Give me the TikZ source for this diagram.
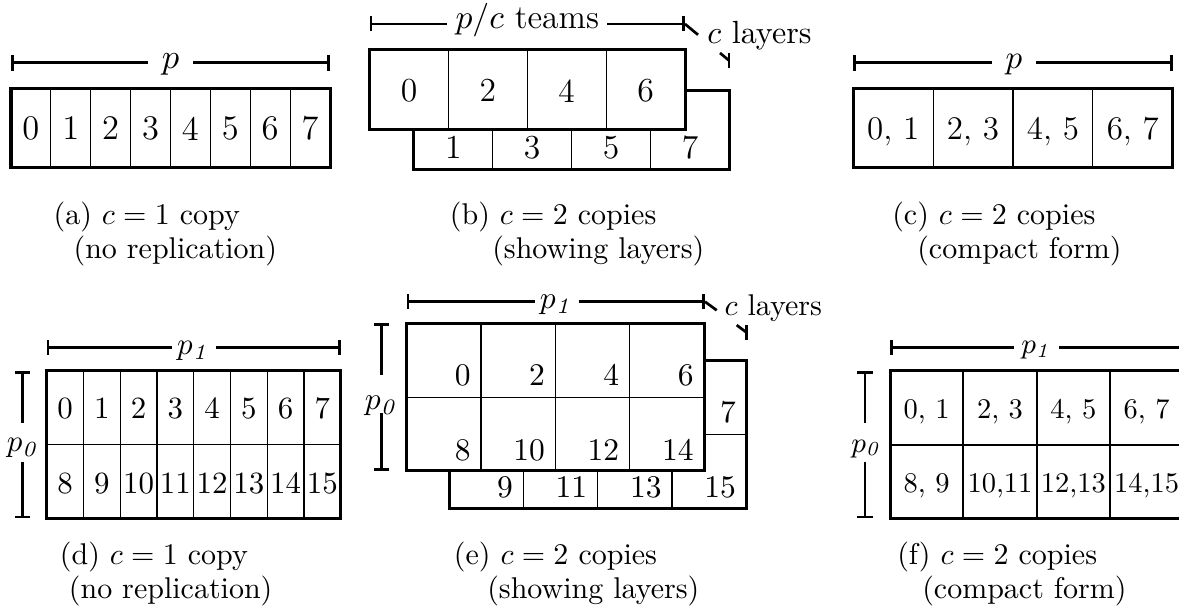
\RequirePackage{fix-cm}
\documentclass[tikz,border=0pt]{standalone}
\usetikzlibrary{arrows.meta}
\begin{document}
\begin{tikzpicture}[x=0.333333pt,y=-0.333333pt,
  frame/.style={line width=1pt},
  divider/.style={line width=0.4pt},
  dimline/.style={line width=0.9pt},
  lab/.style={inner sep=0pt, outer sep=0pt},
  dimlab/.style={inner ysep=0pt, outer sep=0pt, anchor=base},
  captxt/.style={anchor=base west, inner sep=0pt, font=\fontsize{10}{12}\selectfont},
  fa/.style={font=\fontsize{11.5}{13.8}\selectfont},
  fb/.style={font=\fontsize{11.2}{13.4}\selectfont},
  fc/.style={font=\fontsize{11}{13.2}\selectfont},
  fd/.style={font=\fontsize{10.3}{12.4}\selectfont},
  fe/.style={font=\fontsize{10.5}{12.6}\selectfont},
  ff/.style={font=\fontsize{9.5}{11.4}\selectfont},
]
\useasboundingbox (0,0) rectangle (1179,611);

% ---------------- (a) one copy, 1-D ----------------
\coordinate (aL) at (11,62.7);
\coordinate (aR) at (330,62.7);
\node[fa, dimlab, inner xsep=4.6pt] (aP) at (170.5,68.1) {$p$};
\draw[dimline,{Bar[width=5.3pt]}-] (aL) -- (aP.west |- aL);
\draw[dimline,-{Bar[width=5.3pt]}] (aP.east |- aR) -- (aR);
\draw[frame] (11,88.3) rectangle (330,167.3);
\foreach \i in {1,...,7}
  \draw[divider] ({11+\i*39.875},88.3) -- ({11+\i*39.875},167.3);
\foreach \i in {0,...,7}
  \node[fa, lab] (a\i) at ({11+(\i+0.5)*39.875},128.5) {\i};
\node[captxt] (capa1) at (53,225) {(a) $c=1$ copy};
\node[captxt] (capa2) at (73,259) {(no replication)};

% ---------------- (b) two copies, layers ----------------
\coordinate (bL) at (369.5,24);
\coordinate (bR) at (685,24);
\node[fb, dimlab, inner xsep=2.8pt] (bP) at (527.3,28.3) {$p/c$ teams};
\draw[dimline,{Bar[width=5pt]}-] (bL) -- (bP.west |- bL);
\draw[dimline,-{Bar[width=5pt]}] (bP.east |- bR) -- (bR);
% depth marker
\coordinate (bD1) at (698,34.8);
\coordinate (bD2) at (720,53);
\coordinate (bD3) at (729,60.5);
\draw[dimline] (bR) -- (bD1);
\draw[dimline] (bD2) -- (bD3);
\draw[dimline] (729,53) -- (729,68);
\node[anchor=base west, inner sep=0pt, font=\fontsize{10.7}{12.8}\selectfont] (bC) at (706.7,43.3) {$c$ layers};
% back layer
\draw[frame] (413.3,90.7) rectangle (729,170);
\foreach \x in {492.2,571.1,650.1}
  \draw[divider] (\x,90.7) -- (\x,170);
% front layer
\draw[frame, fill=white] (369.5,50) rectangle (685,129.3);
\foreach \x in {448.4,527.3,606.1}
  \draw[divider] (\x,50) -- (\x,129.3);
\foreach \i/\x in {0/409,2/487.9,4/566.7,6/645.6}
  \node[fb, lab] (b\i) at (\x,90.8) {\i};
\foreach \i/\x in {1/453.4,3/532.2,5/611.1,7/690}
  \node[fb, lab] (b\i) at (\x,147.5) {\i};
\node[captxt] (capb1) at (449.3,225) {(b) $c=2$ copies};
\node[captxt] (capb2) at (491.7,259) {(showing layers)};

% ---------------- (c) two copies, compact ----------------
\coordinate (cL) at (853.3,62.7);
\coordinate (cR) at (1172.7,62.7);
\node[fc, dimlab, inner xsep=4.6pt] (cP) at (1013.8,68.1) {$p$};
\draw[dimline,{Bar[width=5.3pt]}-] (cL) -- (cP.west |- cL);
\draw[dimline,-{Bar[width=5.3pt]}] (cP.east |- cR) -- (cR);
\draw[frame] (853.3,88.3) rectangle (1172.7,167.3);
\foreach \x in {933.1,1013,1092.8}
  \draw[divider] (\x,88.3) -- (\x,167.3);
\foreach \t/\x [count=\k] in {{0, 1}/893.2,{2, 3}/973,{4, 5}/1052.9,{6, 7}/1132.8}
  \node[fc, lab, anchor=base] (c\k) at (\x,140) {\t};
\node[captxt] (capc1) at (891.7,225) {(c) $c=2$ copies};
\node[captxt] (capc2) at (916.7,259) {(compact form)};

% ---------------- (d) one copy, 2-D ----------------
\coordinate (dL) at (46.7,347.3);
\coordinate (dR) at (340.7,347.3);
\node[fd, dimlab, inner xsep=1.9pt] (dP) at (193.7,355) {$p_{\mathit{1}}$};
\draw[dimline,{Bar[width=5pt]}-] (dL) -- (dP.west |- dL);
\draw[dimline,-{Bar[width=5pt]}] (dP.east |- dR) -- (dR);
\coordinate (dT) at (22.7,371);
\coordinate (dA) at (22.7,423.3);
\coordinate (dB) at (22.7,461.7);
\coordinate (dBot) at (22.7,518.3);
\draw[dimline,{Bar[width=5pt]}-] (dT) -- (dA);
\draw[dimline,-{Bar[width=5pt]}] (dB) -- (dBot);
\node[fd, dimlab, inner xsep=0pt] (dQ) at (23.3,451.5) {$p_{\mathit{0}}$};
\draw[frame] (46.7,371) rectangle (340.7,518.3);
\draw[divider] (46.7,444.7) -- (340.7,444.7);
\foreach \i in {1,...,7}
  \draw[divider] ({46.7+\i*36.75},371) -- ({46.7+\i*36.75},518.3);
\foreach \i [evaluate=\i as \j using int(\i+8)] in {0,...,7} {
  \node[fd, lab] (d\i) at ({46.7+(\i+0.5)*36.75},408.3) {\i};
  \node[fd, lab] (d\j) at ({46.7+(\i+0.5)*36.75},483.3) {\j};
}
\node[captxt] (capd1) at (59.3,565) {(d) $c=1$ copy};
\node[captxt] (capd2) at (68.3,599) {(no replication)};

% ---------------- (e) two copies, layers, 2-D ----------------
\coordinate (eL) at (406.7,301.7);
\coordinate (eR) at (705,301.7);
\node[fe, dimlab, inner xsep=1.7pt] (eP) at (556.7,308.5) {$p_{\mathit{1}}$};
\draw[dimline,{Bar[width=5pt]}-] (eL) -- (eP.west |- eL);
\draw[dimline,-{Bar[width=5pt]}] (eP.east |- eR) -- (eR);
\coordinate (eD1) at (716.7,310.3);
\coordinate (eD2) at (736.7,325.1);
\coordinate (eD3) at (746.5,332.5);
\draw[dimline] (eR) -- (eD1);
\draw[dimline] (eD2) -- (eD3);
\draw[dimline] (746.5,325) -- (746.5,340);
\node[anchor=base west, inner sep=0pt, font=\fontsize{10}{12}\selectfont] (eC) at (724,316) {$c$ layers};
\coordinate (eT) at (381.7,323.3);
\coordinate (eA) at (381.7,375);
\coordinate (eB) at (381.7,413.3);
\coordinate (eBot) at (381.7,471);
\draw[dimline,{Bar[width=5.1pt]}-] (eT) -- (eA);
\draw[dimline,-{Bar[width=5.1pt]}] (eB) -- (eBot);
\node[fe, dimlab, inner xsep=0pt] (eQ) at (381.7,410) {$p_{\mathit{0}}$};
% back layer
\draw[frame] (449,360.8) rectangle (746.3,508.5);
\draw[divider] (449,434.7) -- (746.3,434.7);
\foreach \x in {523.3,597.6,672}
  \draw[divider] (\x,360.8) -- (\x,508.5);
\node[fe, lab, anchor=east] (e7) at (735.8,412.5) {7};
\foreach \i/\x in {9/512.8,11/587.1,13/661.5,15/735.8}
  \node[fe, lab, anchor=east] (e\i) at (\x,487.5) {\i};
% front layer
\draw[frame, fill=white] (406.7,323.3) rectangle (704,471);
\draw[divider] (406.7,397.2) -- (704,397.2);
\foreach \x in {481,555.3,629.7}
  \draw[divider] (\x,323.3) -- (\x,471);
\foreach \i/\x in {0/470.5,2/544.8,4/619.2,6/693.5}
  \node[fe, lab, anchor=east] (e\i) at (\x,375) {\i};
\foreach \i/\x in {8/470.5,10/544.8,12/619.2,14/693.5}
  \node[fe, lab, anchor=east] (e\i) at (\x,450) {\i};
\node[captxt] (cape1) at (453.3,565) {(e) $c=2$ copies};
\node[captxt] (cape2) at (486.7,599) {(showing layers)};

% ---------------- (f) two copies, compact, 2-D ----------------
\coordinate (fL) at (890,347.3);
\coordinate (fR) at (1183.3,347.3);
\node[ff, dimlab, inner xsep=2.4pt] (fP) at (1036.7,354) {$p_{\mathit{1}}$};
\draw[dimline,{Bar[width=5pt]}-] (fL) -- (fP.west |- fL);
\draw[dimline,-{Bar[width=5pt]}] (fP.east |- fR) -- (fR);
\coordinate (fT) at (865,371);
\coordinate (fA) at (865,423.3);
\coordinate (fB) at (865,461.7);
\coordinate (fBot) at (865,518.3);
\draw[dimline,{Bar[width=5.5pt]}-] (fT) -- (fA);
\draw[dimline,-{Bar[width=5.5pt]}] (fB) -- (fBot);
\node[ff, dimlab, inner xsep=0pt] (fQ) at (866.7,452.5) {$p_{\mathit{0}}$};
\draw[frame] (890,371) rectangle (1183.3,518.3);
\draw[line width=0.6pt] (890,444.7) -- (1183.3,444.7);
\foreach \x in {963.3,1036.7,1110}
  \draw[line width=0.6pt] (\x,371) -- (\x,518.3);
\foreach \t/\x [count=\k] in {{0, 1}/926.7,{2, 3}/1000,{4, 5}/1073.3,{6, 7}/1146.7}
  \node[ff, lab, anchor=base] (fa\k) at (\x,419) {\t};
\foreach \t/\x [count=\k] in {{8, 9}/926.7,{10,11}/1000,{12,13}/1073.3,{14,15}/1146.7}
  \node[ff, lab, anchor=base] (fb\k) at (\x,492.5) {\t};
\node[captxt] (capf1) at (896.7,565) {(f) $c=2$ copies};
\node[captxt] (capf2) at (921.7,599) {(compact form)};
\end{tikzpicture}
\end{document}
